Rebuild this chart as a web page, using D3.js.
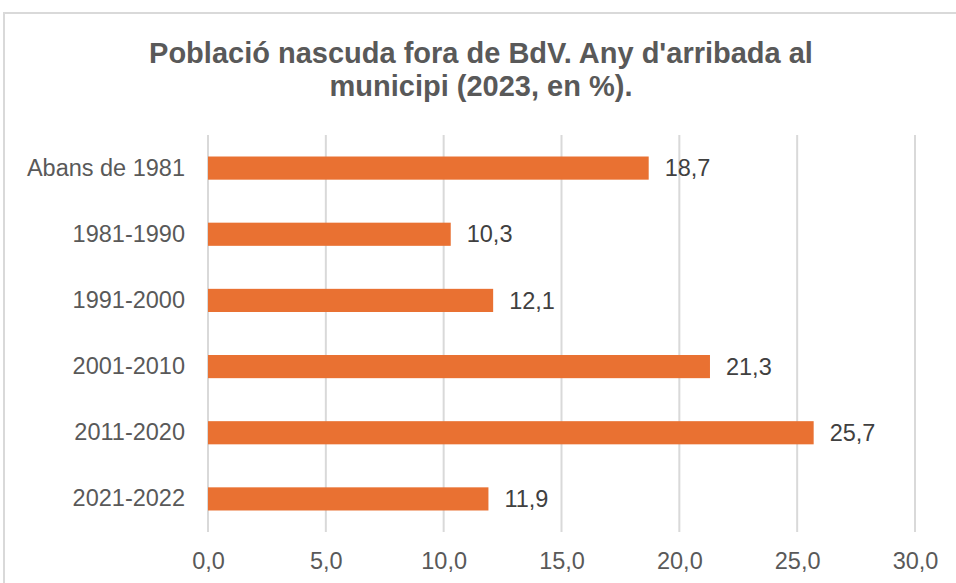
<!DOCTYPE html>
<html>
<head>
<meta charset="utf-8">
<script src="https://cdn.jsdelivr.net/npm/d3@7"></script>
<style>
  body { margin: 0; background: #fff; }
  svg { display: block; font-family: "Liberation Sans", Arial, sans-serif; }
</style>
</head>
<body>
<div class="chart-container"></div>
<script>
// Data
var categories = ["Abans de 1981", "1981-1990", "1991-2000", "2001-2010", "2011-2020", "2021-2022"];
var values = [18.7, 10.3, 12.1, 21.3, 25.7, 11.9];
var xTicks = [0, 5, 10, 15, 20, 25, 30];
var titleLines = ["Població nascuda fora de BdV. Any d'arribada al", "municipi (2023, en %)."];

var W = 956, H = 583;
var margin = { top: 135, right: 41, bottom: 51, left: 208 },
    width = W - margin.left - margin.right,
    height = H - margin.top - margin.bottom;

var fmt = function(v) { return d3.format(".1f")(v).replace(".", ","); };

var svg = d3.select(".chart-container").append("svg")
    .attr("width", W)
    .attr("height", H);

// Chart area border (Excel style)
svg.append("rect")
    .attr("x", 4).attr("y", 13)
    .attr("width", W + 10).attr("height", H + 10)
    .attr("fill", "none")
    .attr("stroke", "#d9d9d9")
    .attr("stroke-width", 2);

// Title
svg.append("g").selectAll("text")
    .data(titleLines)
    .enter().append("text")
    .attr("x", 481)
    .attr("y", function(d, i) { return 63 + i * 33; })
    .attr("text-anchor", "middle")
    .attr("fill", "#595959")
    .attr("font-size", "29px")
    .attr("font-weight", "bold")
    .text(function(d) { return d; });

var g = svg.append("g")
    .attr("transform", "translate(" + margin.left + "," + margin.top + ")");

// Scales
var x = d3.scaleLinear().domain([0, 30]).range([0, width]);
var y = d3.scaleBand().domain(categories).range([0, height]).paddingInner(0.65).paddingOuter(0.325);

// Gridlines
g.append("g")
    .selectAll("line")
    .data(xTicks)
    .enter().append("line")
    .attr("x1", function(d) { return x(d); })
    .attr("x2", function(d) { return x(d); })
    .attr("y1", 0)
    .attr("y2", height)
    .attr("stroke", "#d9d9d9")
    .attr("stroke-width", 2);

// X axis labels
var xAxis = g.append("g")
    .attr("transform", "translate(0," + height + ")")
    .call(d3.axisBottom(x).tickValues(xTicks).tickFormat(fmt).tickSize(0).tickPadding(20));
xAxis.select(".domain").remove();
xAxis.selectAll("text")
    .attr("fill", "#595959")
    .style("font-size", "23.5px")
    .style("font-family", "'Liberation Sans', Arial, sans-serif");

// Y axis labels
var yAxis = g.append("g")
    .call(d3.axisLeft(y).tickSize(0).tickPadding(23));
yAxis.select(".domain").remove();
yAxis.selectAll("text")
    .attr("fill", "#595959")
    .style("font-size", "23.5px")
    .style("font-family", "'Liberation Sans', Arial, sans-serif");

// Bars
var data = categories.map(function(c, i) { return { name: c, value: values[i] }; });
g.selectAll(".bar")
    .data(data)
    .enter().append("rect")
    .attr("class", "bar")
    .attr("x", x(0))
    .attr("y", function(d) { return y(d.name); })
    .attr("width", function(d) { return x(d.value) - x(0); })
    .attr("height", y.bandwidth())
    .attr("fill", "#e97132");

// Value labels
g.selectAll(".label")
    .data(data)
    .enter().append("text")
    .attr("class", "label")
    .attr("x", function(d) { return x(d.value) + 16; })
    .attr("y", function(d) { return y(d.name) + y.bandwidth() / 2; })
    .attr("dy", "0.35em")
    .attr("fill", "#404040")
    .attr("font-size", "23.5px")
    .text(function(d) { return fmt(d.value); });
</script>
</body>
</html>
